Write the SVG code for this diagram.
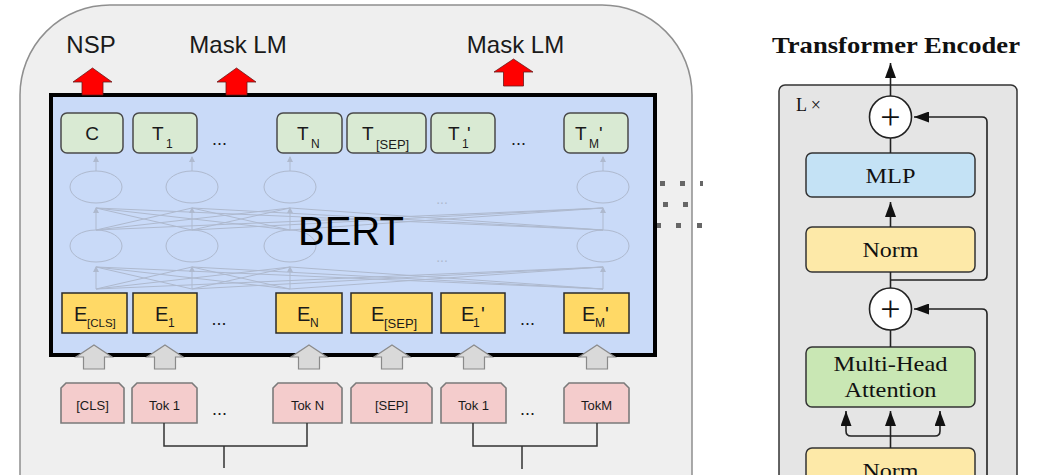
<svg xmlns="http://www.w3.org/2000/svg" width="1046" height="475" viewBox="0 0 1046 475">
<style>
.sans{font-family:"Liberation Sans",Arial,sans-serif;fill:#1a1a1a}
.serif{font-family:"Liberation Serif","Times New Roman",serif;fill:#111}
.tgreen{fill:#d9ead3;stroke:#4a4a4a;stroke-width:1.5}
.tyel{fill:#ffd966;stroke:#2a2a2a;stroke-width:1.5}
.tpink{fill:#f4cccc;stroke:#7a7a7a;stroke-width:1.6}
.faint{fill:none;stroke:#aeb9ce;stroke-width:1}
.fainth{fill:#aeb9ce;stroke:none}
.red{fill:#ff0000;stroke:#6a1a1a;stroke-width:0.8}
.grey{fill:#d9d9d9;stroke:#8a8a8a;stroke-width:1.2}
.br{fill:none;stroke:#333;stroke-width:1.5}
.blk{fill:none;stroke:#222;stroke-width:1.6}
.rbox{stroke:#333;stroke-width:1.5}
.lbl{font-size:19px}
.sub{font-size:12px}
.tok{font-size:13px}
.dots{font-size:18px}
.rt{font-size:22px}
</style>
<defs>
<marker id="ah" markerUnits="userSpaceOnUse" markerWidth="15" markerHeight="11" refX="15" refY="5.5" orient="auto">
<path d="M0,0 L15,5.5 L0,11 z" fill="#111"/>
</marker>
</defs>

<!-- left panel background -->
<g id="panel">
<path d="M20,476 V95 A90,90 0 0 1 110,5 H602 A90,90 0 0 1 692,95 V476" fill="#efefef" stroke="#8f8f8f" stroke-width="1.5"/>
<g fill="#666">
<rect x="660" y="181" width="5" height="5"/><rect x="680" y="181" width="5" height="5"/><rect x="700" y="181" width="3" height="5"/>
<rect x="663" y="202" width="5" height="5"/><rect x="683" y="202" width="5" height="5"/>
<rect x="656" y="223" width="5" height="5"/><rect x="676" y="223" width="5" height="5"/><rect x="697" y="223" width="5" height="5"/>
</g>
</g>

<g id="bert">
<rect x="51" y="95" width="604" height="260" fill="#c9daf8" stroke="#000" stroke-width="4"/>
<g id="net">
<ellipse class="faint" cx="96" cy="187" rx="26" ry="16"/>
<ellipse class="faint" cx="192" cy="187" rx="26" ry="16"/>
<ellipse class="faint" cx="290" cy="187" rx="26" ry="16"/>
<ellipse class="faint" cx="603" cy="187" rx="26" ry="16"/>
<ellipse class="faint" cx="96" cy="246" rx="26" ry="16"/>
<ellipse class="faint" cx="192" cy="246" rx="26" ry="16"/>
<ellipse class="faint" cx="290" cy="246" rx="26" ry="16"/>
<ellipse class="faint" cx="603" cy="246" rx="26" ry="16"/>
<path class="faint" d="M96,289 L96,267 M96,289 L192,267 M96,289 L290,267 M96,289 L603,267
M192,289 L96,267 M192,289 L192,267 M192,289 L290,267 M192,289 L603,267
M290,289 L96,267 M290,289 L192,267 M290,289 L290,267 M290,289 L603,267
M603,289 L96,267 M603,289 L192,267 M603,289 L290,267 M603,289 L603,267
M96,230 L96,208 M96,230 L192,208 M96,230 L290,208 M96,230 L603,208
M192,230 L96,208 M192,230 L192,208 M192,230 L290,208 M192,230 L603,208
M290,230 L96,208 M290,230 L192,208 M290,230 L290,208 M290,230 L603,208
M603,230 L96,208 M603,230 L192,208 M603,230 L290,208 M603,230 L603,208
M96,171 L96,157 M192,171 L192,157 M290,171 L290,157 M603,171 L603,157"/>
<path class="fainth" d="M93,272 L96,266 L99,272 z M189,272 L192,266 L195,272 z M287,272 L290,266 L293,272 z M600,272 L603,266 L606,272 z
M93,213 L96,207 L99,213 z M189,213 L192,207 L195,213 z M287,213 L290,207 L293,213 z M600,213 L603,207 L606,213 z
M93,162 L96,156 L99,162 z M189,162 L192,156 L195,162 z M287,162 L290,156 L293,162 z M600,162 L603,156 L606,162 z"/>
<text x="442" y="204" class="sans" font-size="14" text-anchor="middle" style="fill:#aeb9ce">...</text>
<text x="442" y="262" class="sans" font-size="14" text-anchor="middle" style="fill:#aeb9ce">...</text>
</g>
<text x="298" y="245" class="sans" font-size="40" style="fill:#000">BERT</text>
</g>

<!-- output tokens -->
<g id="out-C"><rect class="tgreen" x="61" y="113" width="62" height="40" rx="6"/><text class="sans lbl" x="92" y="140" text-anchor="middle">C</text></g>
<g id="out-T1"><rect class="tgreen" x="133" y="113" width="64" height="40" rx="6"/><text class="sans lbl" x="152" y="140">T</text><text class="sans sub" x="166" y="148">1</text></g>
<g id="out-TN"><rect class="tgreen" x="277" y="113" width="65" height="40" rx="6"/><text class="sans lbl" x="297" y="140">T</text><text class="sans sub" x="311" y="148">N</text></g>
<g id="out-TSEP"><rect class="tgreen" x="347" y="113" width="79" height="40" rx="6"/><text class="sans lbl" x="362" y="140">T</text><text class="sans" font-size="13" x="376" y="149">[SEP]</text></g>
<g id="out-T1p"><rect class="tgreen" x="431" y="113" width="64" height="40" rx="6"/><text class="sans lbl" x="448" y="140">T</text><text class="sans sub" x="462" y="148">1</text><text class="sans lbl" x="467" y="140">'</text></g>
<g id="out-TMp"><rect class="tgreen" x="564" y="113" width="64" height="40" rx="6"/><text class="sans lbl" x="575" y="140">T</text><text class="sans sub" x="589" y="148">M</text><text class="sans lbl" x="599" y="140">'</text></g>
<text class="sans dots" x="219.5" y="145" text-anchor="middle">...</text>
<text class="sans dots" x="518.5" y="145" text-anchor="middle">...</text>

<!-- embeddings -->
<g id="emb-CLS"><rect class="tyel" x="62" y="293" width="65" height="40"/><text class="sans" font-size="20" x="74" y="321">E</text><text class="sans" font-size="11.5" x="87" y="327">[CLS]</text></g>
<g id="emb-1"><rect class="tyel" x="133" y="293" width="64" height="40"/><text class="sans" font-size="20" x="155" y="321">E</text><text class="sans sub" x="168" y="327">1</text></g>
<g id="emb-N"><rect class="tyel" x="276" y="293" width="66" height="40"/><text class="sans" font-size="20" x="297" y="321">E</text><text class="sans sub" x="310" y="327">N</text></g>
<g id="emb-SEP"><rect class="tyel" x="351" y="293" width="81" height="40"/><text class="sans" font-size="20" x="371" y="321">E</text><text class="sans" font-size="13" x="384" y="328">[SEP]</text></g>
<g id="emb-1p"><rect class="tyel" x="441" y="293" width="64" height="40"/><text class="sans" font-size="20" x="461" y="321">E</text><text class="sans sub" x="473" y="327">1</text><text class="sans" font-size="20" x="481" y="321">'</text></g>
<g id="emb-Mp"><rect class="tyel" x="564" y="293" width="65" height="40"/><text class="sans" font-size="20" x="582" y="321">E</text><text class="sans sub" x="595" y="327">M</text><text class="sans" font-size="20" x="605" y="321">'</text></g>
<text class="sans dots" x="219" y="325" text-anchor="middle">...</text>
<text class="sans dots" x="527.5" y="325" text-anchor="middle">...</text>

<!-- input tokens -->
<g id="tok-CLS"><path class="tpink" d="M61,423 V388 L66,383 H119 L124,388 V423 z"/><text class="sans tok" x="92.5" y="410" text-anchor="middle">[CLS]</text></g>
<g id="tok-1"><path class="tpink" d="M132,423 V388 L137,383 H192 L197,388 V423 z"/><text class="sans tok" x="164.5" y="410" text-anchor="middle">Tok 1</text></g>
<g id="tok-N"><path class="tpink" d="M273,423 V388 L278,383 H337 L342,388 V423 z"/><text class="sans tok" x="307.5" y="410" text-anchor="middle">Tok N</text></g>
<g id="tok-SEP"><path class="tpink" d="M351,423 V388 L356,383 H427 L432,388 V423 z"/><text class="sans tok" x="391.5" y="410" text-anchor="middle">[SEP]</text></g>
<g id="tok-1p"><path class="tpink" d="M441,423 V388 L446,383 H501 L506,388 V423 z"/><text class="sans tok" x="473.5" y="410" text-anchor="middle">Tok 1</text></g>
<g id="tok-M"><path class="tpink" d="M564,423 V388 L569,383 H624 L629,388 V423 z"/><text class="sans tok" x="596.5" y="410" text-anchor="middle">TokM</text></g>
<text class="sans dots" x="219.5" y="415" text-anchor="middle">...</text>
<text class="sans dots" x="527.5" y="415" text-anchor="middle">...</text>

<!-- heads -->
<g id="labels">
<text class="sans" font-size="24" x="91" y="53" text-anchor="middle">NSP</text>
<text class="sans" font-size="24" x="238" y="53" text-anchor="middle">Mask LM</text>
<text class="sans" font-size="24" x="515.5" y="53" text-anchor="middle">Mask LM</text>
</g>

<g id="connectors">
<path class="red" d="M92.5,68 L112,82 L103,82 L103,95 L82,95 L82,82 L73,82 z"/>
<path class="red" d="M236.5,68 L256,82 L247,82 L247,95 L226,95 L226,82 L217,82 z"/>
<path class="red" d="M513.5,59 L533,72 L523.5,72 L523.5,86 L503.5,86 L503.5,72 L494,72 z"/>
<path class="grey" d="M94,345 L112,357 L104.5,357 L104.5,369 L83.5,369 L83.5,357 L76,357 z"/>
<path class="grey" d="M165,345 L183,357 L175.5,357 L175.5,369 L154.5,369 L154.5,357 L147,357 z"/>
<path class="grey" d="M309,345 L327,357 L319.5,357 L319.5,369 L298.5,369 L298.5,357 L291,357 z"/>
<path class="grey" d="M392,345 L410,357 L402.5,357 L402.5,369 L381.5,369 L381.5,357 L374,357 z"/>
<path class="grey" d="M474,345 L492,357 L484.5,357 L484.5,369 L463.5,369 L463.5,357 L456,357 z"/>
<path class="grey" d="M597,345 L615,357 L607.5,357 L607.5,369 L586.5,369 L586.5,357 L579,357 z"/>
<path class="br" d="M164,423 V446 H307 V423 M224,446 V468"/>
<path class="br" d="M473,423 V446 H597 V423 M522,446 V469"/>
</g>

<!-- Transformer encoder -->
<g id="encoder">
<text class="serif" font-weight="bold" font-size="23" x="896" y="53" text-anchor="middle" textLength="248" lengthAdjust="spacingAndGlyphs">Transformer Encoder</text>
<rect x="779" y="85" width="238" height="420" rx="6" fill="#e5e5e5" stroke="#333" stroke-width="1.5"/>
<text class="serif" font-size="18" x="796" y="111">L ×</text>
</g>
<g id="add1"><circle cx="890.5" cy="117" r="21" fill="#fff" stroke="#222" stroke-width="1.6"/><text class="serif" font-size="36" x="890.5" y="129" text-anchor="middle">+</text></g>
<g id="mlp"><rect class="rbox" x="806" y="153" width="169" height="44" rx="6" fill="#c4e2f5"/><text class="serif rt" x="890.5" y="183" text-anchor="middle" textLength="50" lengthAdjust="spacingAndGlyphs">MLP</text></g>
<g id="norm1"><rect class="rbox" x="806" y="227" width="169" height="45" rx="6" fill="#fde9a8"/><text class="serif rt" x="890.5" y="257" text-anchor="middle" textLength="56" lengthAdjust="spacingAndGlyphs">Norm</text></g>
<g id="add2"><circle cx="890.5" cy="309" r="21" fill="#fff" stroke="#222" stroke-width="1.6"/><text class="serif" font-size="36" x="890.5" y="321" text-anchor="middle">+</text></g>
<g id="mha"><rect class="rbox" x="806" y="347" width="169" height="60" rx="6" fill="#c9e7b4"/><text class="serif rt" x="890.5" y="371" text-anchor="middle" textLength="114" lengthAdjust="spacingAndGlyphs">Multi-Head</text><text class="serif rt" x="890.5" y="397" text-anchor="middle" textLength="92" lengthAdjust="spacingAndGlyphs">Attention</text></g>
<g id="norm2"><rect class="rbox" x="806" y="448" width="169" height="45" rx="6" fill="#fde9a8"/><text class="serif rt" x="890.5" y="478" text-anchor="middle" textLength="56" lengthAdjust="spacingAndGlyphs">Norm</text></g>

<g id="enc-connectors">
<path class="blk" d="M890.5,96 V63" marker-end="url(#ah)"/>
<path class="blk" d="M890.5,138 V153"/>
<path class="blk" d="M890.5,227 V202" marker-end="url(#ah)"/>
<path class="blk" d="M890.5,272 V288"/>
<path class="blk" d="M890.5,280 H982 Q987,280 987,275 V122 Q987,117 982,117 H914" marker-end="url(#ah)"/>
<path class="blk" d="M890.5,330 V347"/>
<path class="blk" d="M987,480 V314 Q987,309 982,309 H914" marker-end="url(#ah)"/>
<path class="blk" d="M890.5,448 V411" marker-end="url(#ah)"/>
<path class="blk" d="M890.5,436 H851 Q846,436 846,431 V411" marker-end="url(#ah)"/>
<path class="blk" d="M890.5,436 H935 Q940,436 940,431 V411" marker-end="url(#ah)"/>
</g>
</svg>
